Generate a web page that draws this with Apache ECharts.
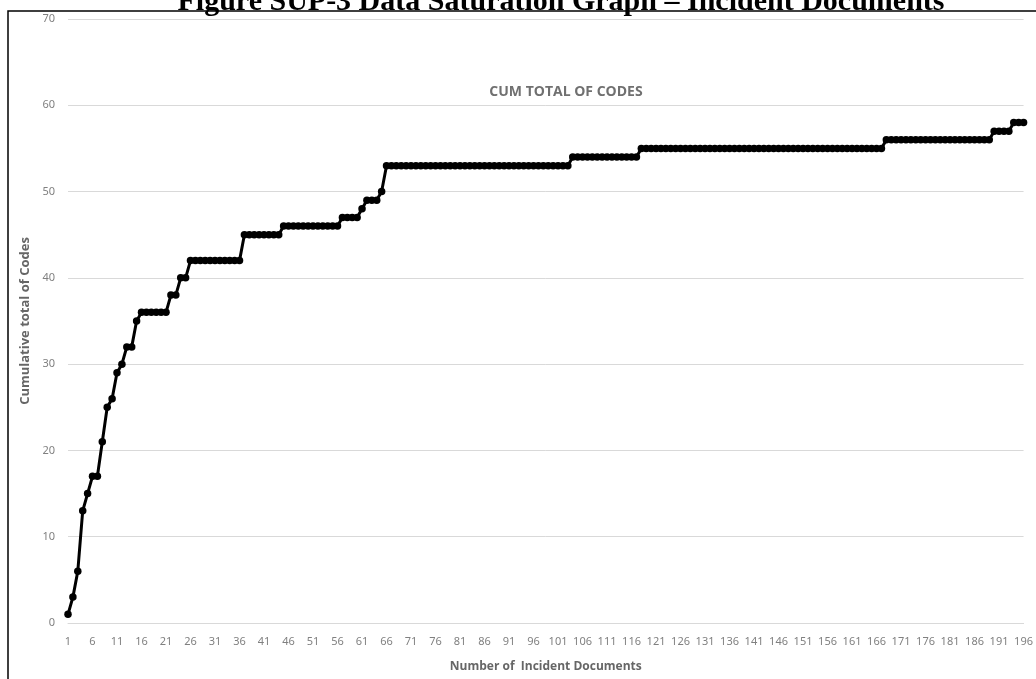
<!DOCTYPE html>
<html>
<head>
<meta charset="utf-8">
<script src="https://cdn.jsdelivr.net/npm/echarts@6/dist/echarts.min.js"></script>
<style>
  html, body { margin: 0; padding: 0; background: #fff; }
  #chart { width: 1036px; height: 679px; }
</style>
</head>
<body>
<div id="chart"></div>
<script>
// documents 1..196 on the x axis
var docNumbers = [];
for (var i = 1; i <= 196; i++) docNumbers.push(String(i));

// cumulative total of codes
var cumCodes = [
  1, 3, 6, 13, 15, 17, 17, 21, 25, 26,
  29, 30, 32, 32, 35, 36, 36, 36, 36, 36,
  36, 38, 38, 40, 40, 42, 42, 42, 42, 42,
  42, 42, 42, 42, 42, 42, 45, 45, 45, 45,
  45, 45, 45, 45, 46, 46, 46, 46, 46, 46,
  46, 46, 46, 46, 46, 46, 47, 47, 47, 47,
  48, 49, 49, 49, 50, 53, 53, 53, 53, 53,
  53, 53, 53, 53, 53, 53, 53, 53, 53, 53,
  53, 53, 53, 53, 53, 53, 53, 53, 53, 53,
  53, 53, 53, 53, 53, 53, 53, 53, 53, 53,
  53, 53, 53, 54, 54, 54, 54, 54, 54, 54,
  54, 54, 54, 54, 54, 54, 54, 55, 55, 55,
  55, 55, 55, 55, 55, 55, 55, 55, 55, 55,
  55, 55, 55, 55, 55, 55, 55, 55, 55, 55,
  55, 55, 55, 55, 55, 55, 55, 55, 55, 55,
  55, 55, 55, 55, 55, 55, 55, 55, 55, 55,
  55, 55, 55, 55, 55, 55, 55, 56, 56, 56,
  56, 56, 56, 56, 56, 56, 56, 56, 56, 56,
  56, 56, 56, 56, 56, 56, 56, 56, 56, 57,
  57, 57, 57, 58, 58, 58
];

var yTicks = { min: 0, max: 70, step: 10 };

var chart = echarts.init(document.getElementById('chart'), null, { renderer: 'canvas' });

var option = {
  backgroundColor: '#ffffff',
  animation: false,
  title: {
    text: 'CUM TOTAL OF CODES',
    left: 561,
    textAlign: 'center',
    top: 80,
    textStyle: {
      fontFamily: 'Open Sans',
      fontSize: 14,
      fontWeight: 'bold',
      color: '#707070'
    }
  },
  graphic: [
    {
      type: 'rect',
      shape: { x: 8, y: 11, width: 1100, height: 800 },
      style: { fill: 'none', stroke: '#000', lineWidth: 1.5 },
      z: 0
    },
    {
      type: 'text',
      x: 561,
      y: 2,
      style: {
        text: 'Figure SUP-3 Data Saturation Graph \u2013 Incident Documents',
        font: 'bold 30px "Liberation Serif"',
        fill: '#000',
        align: 'center',
        verticalAlign: 'middle'
      },
      z: 10
    }
  ],
  grid: { left: 68, right: 12, top: 19, bottom: 56, containLabel: false },
  xAxis: {
    type: 'category',
    data: docNumbers,
    boundaryGap: false,
    axisTick: { show: false },
    axisLine: { lineStyle: { color: '#d9d9d9', width: 1 } },
    axisLabel: {
      interval: 4,
      color: '#808080',
      fontSize: 11,
      fontFamily: 'Liberation Sans Narrow, Noto Sans',
      margin: 13
    },
    name: 'Number of  Incident Documents',
    nameLocation: 'middle',
    nameGap: 38,
    nameTextStyle: {
      color: '#666',
      fontSize: 12,
      fontWeight: 'bold',
      fontFamily: 'Open Sans'
    }
  },
  yAxis: {
    type: 'value',
    min: yTicks.min,
    max: yTicks.max,
    interval: yTicks.step,
    axisLine: { show: false },
    axisTick: { show: false },
    splitLine: { lineStyle: { color: '#d9d9d9', width: 1 } },
    axisLabel: {
      color: '#808080',
      fontSize: 11,
      fontFamily: 'Liberation Sans Narrow, Noto Sans',
      margin: 13
    },
    name: 'Cumulative total of Codes',
    nameLocation: 'middle',
    nameRotate: 90,
    nameGap: 35,
    nameTextStyle: {
      color: '#666',
      fontSize: 13,
      fontWeight: 'bold',
      fontFamily: 'Open Sans'
    }
  },
  series: [{
    type: 'line',
    data: cumCodes,
    symbol: 'circle',
    symbolSize: 7.5,
    showAllSymbol: true,
    itemStyle: { color: '#000' },
    lineStyle: { color: '#000', width: 3 },
    z: 5
  }]
};

chart.setOption(option);
</script>
</body>
</html>
